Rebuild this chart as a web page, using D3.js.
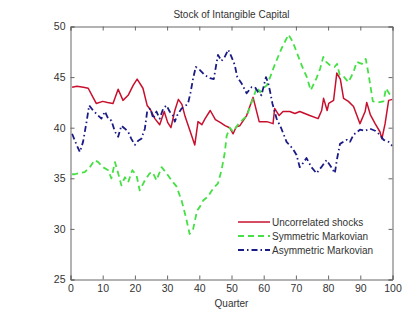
<!DOCTYPE html>
<html lang="en">
<head>
  <meta charset="UTF-8">
  <title>Stock of Intangible Capital</title>
  <script src="https://cdn.jsdelivr.net/npm/d3@7"></script>
  <style>
    body { margin: 0; background: #fff; }
    text { font-family: "Liberation Sans", Arial, sans-serif; fill: #333; }
  </style>
</head>
<body>
  <svg width="404" height="314" id="main"></svg>
</body>
<script>
  // data: [quarter, value]
  const uncorrelated = [
    [0.5,44.0],[2,44.1],[4,44.0],[5.5,43.9],[7,43.0],[8,42.4],[10,42.6],[11.5,42.5],[13.2,42.4],[14.8,43.8],
    [16.3,42.7],[17.9,43.2],[19.5,44.2],[20.7,44.8],[22.5,43.9],[23.8,42.2],[24.8,41.8],[26.2,40.9],[27.7,40.3],
    [29.1,41.6],[30.2,40.5],[31.2,40.0],[32.4,41.7],[33.5,42.8],[34.6,42.3],[35.6,41.1],[37,39.8],[38.6,38.3],
    [39.6,40.6],[40.8,40.3],[41.8,40.9],[43.4,41.7],[45,40.8],[46.6,40.5],[48,40.2],[49.4,40.0],[50.5,39.4],
    [51.5,40.1],[52.6,40.2],[54.7,41.2],[56.7,43.0],[58.6,40.6],[61,40.6],[62.9,40.4],[63.4,41.9],[64.8,41.2],
    [66,41.6],[68.1,41.6],[69.7,41.4],[71.2,41.6],[74.3,41.2],[76.9,40.9],[78,41.7],[78.6,42.9],[79.7,41.7],
    [80.2,42.4],[81.7,42.7],[82.7,45.4],[83.8,44.8],[84.8,42.9],[86.3,42.6],[87.9,42.1],[89.9,40.4],[91.5,41.6],
    [92,42.5],[93.1,41.3],[94.6,40.4],[96.1,39.6],[96.7,38.9],[97.7,40.4],[98.8,42.7],[100,42.8]
  ];
  const symmetric = [
    [0.5,35.4],[1.3,35.4],[2.5,35.5],[4.4,35.6],[6,36.1],[7.5,36.8],[8.6,36.6],[10.1,36.1],[11.7,35.8],[12.7,35.0],
    [13.8,36.6],[14.8,35.5],[15.8,34.3],[16.9,35.1],[17.9,34.6],[19.2,35.8],[20.5,35.3],[21.5,33.8],[23.1,34.8],
    [24.6,35.5],[25.5,35.6],[26.7,34.8],[28.3,36.1],[29.8,35.5],[31.4,34.8],[32.9,34.2],[34.5,32.8],[35.8,31.2],
    [37,29.5],[38.1,30.0],[39.3,31.8],[40.2,32.2],[41.2,32.8],[42.7,33.2],[44.3,34.0],[45.8,34.5],[46.9,35.8],
    [47.9,37.5],[48.5,39.2],[49.5,40.0],[50.5,39.6],[52.2,40.4],[54.8,41.2],[56.8,43.0],[57.9,44.0],[58.9,43.5],
    [59.9,43.9],[61,44.2],[62,45.0],[63.4,46.2],[65.5,47.8],[67.7,49.2],[69,48.5],[70.8,47.0],[72,46.0],
    [73.4,45.0],[74.6,43.7],[76.4,44.9],[77.5,45.8],[78.5,47.0],[79.4,46.5],[80.5,46.2],[82,46.0],[82.8,46.3],
    [83.6,45.2],[85,45.0],[86.3,44.5],[87.9,45.5],[88.9,46.5],[90.5,46.3],[91.7,46.8],[92.5,45.4],[93.9,42.6],
    [95.6,42.5],[97.2,42.6],[98,43.9],[99.3,43.2],[100,43.0]
  ];
  const asymmetric = [
    [0.5,39.4],[1.9,38.3],[2.9,37.6],[3.9,38.6],[5,40.6],[5.8,42.2],[7,41.7],[8.6,41.2],[9.6,40.9],[10.7,41.6],
    [11.7,40.9],[12.7,40.7],[13.8,39.6],[14.8,39.1],[15.8,40.2],[16.9,39.9],[17.9,39.6],[18.9,38.9],[20,38.3],
    [21,38.7],[22,38.9],[23.1,39.9],[23.8,41.6],[24.8,41.9],[25.7,40.9],[26.7,41.6],[27.7,40.9],[28.8,41.9],
    [29.8,42.2],[30.8,41.6],[31.8,41.2],[32.4,40.6],[33.1,41.2],[34.5,41.9],[35.5,42.1],[36.5,42.4],[37.3,43.5],
    [38.1,44.9],[38.9,46.0],[40.2,45.7],[41.7,45.2],[43.3,44.9],[44.5,44.8],[45.3,46.3],[45.8,47.2],[46.9,46.6],
    [47.9,47.0],[49,47.7],[50,47.0],[51,46.2],[51.8,45.0],[53.1,44.4],[54.7,43.4],[56.2,44.0],[57.3,44.0],
    [58.3,43.5],[59.3,43.2],[60.7,45.0],[61.4,44.4],[61.9,43.7],[62.7,42.4],[64,40.9],[65.5,39.9],[67.1,38.6],
    [69.1,37.9],[70.2,37.3],[71.2,36.1],[72.2,36.5],[73.3,37.0],[74.8,36.1],[76.4,35.5],[77.9,36.1],[79.5,36.8],
    [81,36.1],[82.1,35.5],[82.7,36.8],[83.7,38.4],[85.8,38.8],[86.8,38.6],[87.9,39.3],[89.9,39.8],[91.5,39.7],
    [93,39.9],[94.6,39.7],[96.1,39.3],[97.2,38.8],[98.8,38.6],[100,38.2]
  ];
  const seriesNames = ['Uncorrelated shocks', 'Symmetric Markovian', 'Asymmetric Markovian'];
  const xTicks = [0, 10, 20, 30, 40, 50, 60, 70, 80, 90, 100];
  const yTicks = [25, 30, 35, 40, 45, 50];

  const svg = d3.select('#main');
  const box = { left: 70.5, right: 392.5, top: 26.5, bottom: 279.5 };

  const x = d3.scaleLinear().domain([0, 100]).range([box.left, box.right]);
  const y = d3.scaleLinear().domain([25, 50]).range([box.bottom, box.top]);

  const styles = [
    { color: '#c8102e', dash: null, width: 1.5 },
    { color: '#44e044', dash: '6,4', width: 1.8 },
    { color: '#1b1b86', dash: '6,3,1.5,3', width: 1.8 }
  ];

  // clip lines to the axes box
  svg.append('clipPath').attr('id', 'clip')
    .append('rect')
    .attr('x', box.left).attr('y', box.top)
    .attr('width', box.right - box.left).attr('height', box.bottom - box.top);

  const line = d3.line().x(d => x(d[0])).y(d => y(d[1]));

  const lineBox = svg.append('g').attr('clip-path', 'url(#clip)');
  [uncorrelated, symmetric, asymmetric].forEach((data, i) => {
    lineBox.append('path')
      .datum(data)
      .attr('d', line)
      .attr('fill', 'none')
      .attr('stroke', styles[i].color)
      .attr('stroke-width', styles[i].width)
      .attr('stroke-dasharray', styles[i].dash)
      .attr('stroke-linejoin', 'round');
  });

  // axes, ticks point inwards (matlab style box)
  const axisColor = '#666';
  const tickLen = 4;
  const bottomAxis = svg.append('g').attr('transform', `translate(0,${box.bottom})`)
    .call(d3.axisBottom(x).tickValues(xTicks).tickSize(-tickLen).tickPadding(6));
  const topAxis = svg.append('g').attr('transform', `translate(0,${box.top})`)
    .call(d3.axisTop(x).tickValues(xTicks).tickSize(-tickLen).tickFormat(''));
  const leftAxis = svg.append('g').attr('transform', `translate(${box.left},0)`)
    .call(d3.axisLeft(y).tickValues(yTicks).tickSize(-tickLen).tickPadding(5));
  const rightAxis = svg.append('g').attr('transform', `translate(${box.right},0)`)
    .call(d3.axisRight(y).tickValues(yTicks).tickSize(-tickLen).tickFormat(''));

  [bottomAxis, topAxis, leftAxis, rightAxis].forEach(a => {
    a.select('.domain').attr('stroke', axisColor);
    a.selectAll('.tick line').attr('stroke', axisColor);
    a.selectAll('.tick text')
      .attr('font-family', '"Liberation Sans", Arial, sans-serif')
      .attr('font-size', 10.5).attr('fill', '#3a3a3a');
  });
  bottomAxis.selectAll('.tick text').attr('dy', '0.6em');

  // title and axis label
  svg.append('text')
    .attr('x', (box.left + box.right) / 2).attr('y', 18)
    .attr('text-anchor', 'middle').attr('font-size', 10)
    .text('Stock of Intangible Capital');
  svg.append('text')
    .attr('x', (box.left + box.right) / 2).attr('y', 307)
    .attr('text-anchor', 'middle').attr('font-size', 10)
    .text('Quarter');

  // legend (no border)
  const legend = svg.append('g').attr('transform', 'translate(238,222)');
  seriesNames.forEach((name, i) => {
    const row = legend.append('g').attr('transform', `translate(0,${i * 14})`);
    row.append('line')
      .attr('x1', 0).attr('x2', 32).attr('y1', 0).attr('y2', 0)
      .attr('stroke', styles[i].color)
      .attr('stroke-width', styles[i].width)
      .attr('stroke-dasharray', styles[i].dash);
    row.append('text')
      .attr('x', 34).attr('y', 0).attr('dy', '0.35em')
      .attr('font-size', 10)
      .text(name);
  });
</script>
</html>
